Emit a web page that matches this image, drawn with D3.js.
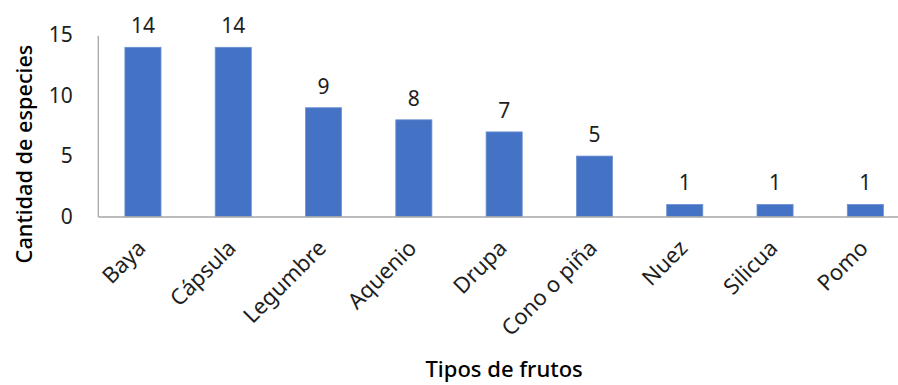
<!DOCTYPE html>
<html>
<head>
<meta charset="utf-8">
<script src="https://cdn.jsdelivr.net/npm/d3@7"></script>
<style>
  html, body { margin: 0; padding: 0; background: #fff; }
  svg { display: block; }
  text { font-family: "Noto Sans", "Open Sans", sans-serif; }
</style>
</head>
<body>
<svg id="chart" width="898" height="385"></svg>
<script>
// Fruit types and number of species for each
const categories = ["Baya", "Cápsula", "Legumbre", "Aquenio", "Drupa", "Cono o piña", "Nuez", "Silicua", "Pomo"];
const speciesCounts = [14, 14, 9, 8, 7, 5, 1, 1, 1];
const yTicks = [0, 5, 10, 15];
const xTitle = "Tipos de frutos";
const yTitle = "Cantidad de especies";

const W = 898, H = 385;
const plot = { left: 97.8, right: 910.5, top: 35.2, bottom: 216.5 };
const fontStack = "'Noto Sans', 'Open Sans', sans-serif";

const svg = d3.select("#chart");

const x = d3.scaleBand()
  .domain(categories)
  .range([plot.left, plot.right])
  .padding(0);

const y = d3.scaleLinear()
  .domain([0, 15])
  .range([plot.bottom, plot.top]);

const barW = x.bandwidth() * 0.4;
const barColor = "#4472C4";
const textColor = "#1e1e1e";
const axisColor = "#a6a6a6";

// Bars
svg.append("g")
  .selectAll("rect")
  .data(categories)
  .join("rect")
  .attr("x", (d) => x(d) + x.bandwidth() / 2 - barW / 2)
  .attr("width", barW)
  .attr("y", (d, i) => y(speciesCounts[i]))
  .attr("height", (d, i) => y(0) - y(speciesCounts[i]))
  .attr("fill", barColor)
  .attr("stroke", "#6f93d3")
  .attr("stroke-width", 0.8);

// Value labels above bars
svg.append("g")
  .selectAll("text")
  .data(categories)
  .join("text")
  .attr("x", (d) => x(d) + x.bandwidth() / 2)
  .attr("y", (d, i) => y(speciesCounts[i]) - 14)
  .attr("text-anchor", "middle")
  .attr("font-size", 21)
  .attr("fill", textColor)
  .text((d, i) => speciesCounts[i]);

// Y axis
const yAxis = svg.append("g")
  .attr("transform", `translate(${plot.left},0)`)
  .call(d3.axisLeft(y).tickValues(yTicks).tickSize(0).tickPadding(25));
yAxis.select(".domain").attr("stroke", axisColor).attr("stroke-width", 1.3);
yAxis.selectAll(".tick text")
  .attr("font-size", 21)
  .attr("fill", textColor)
  .attr("font-family", fontStack);

// X axis
const xAxis = svg.append("g")
  .attr("transform", `translate(0,${plot.bottom})`)
  .call(d3.axisBottom(x).tickSize(0).tickFormat(""));
xAxis.select(".domain").attr("stroke", axisColor).attr("stroke-width", 1.3);

// Rotated category labels
svg.append("g")
  .selectAll("text")
  .data(categories)
  .join("text")
  .attr("transform", (d) => `translate(${x(d) + x.bandwidth() / 2 + 4},${plot.bottom + 33}) rotate(-45)`)
  .attr("text-anchor", "end")
  .attr("font-size", 22)
  .attr("fill", textColor)
  .text((d) => d);

// Axis titles
svg.append("text")
  .attr("x", (plot.left + plot.right) / 2)
  .attr("y", 377)
  .attr("text-anchor", "middle")
  .attr("font-size", 22)
  .attr("font-weight", 500)
  .attr("fill", "#000")
  .text(xTitle);

svg.append("text")
  .attr("transform", "translate(32,154) rotate(-90)")
  .attr("text-anchor", "middle")
  .attr("font-size", 21.7)
  .attr("font-weight", 500)
  .attr("fill", "#000")
  .text(yTitle);
</script>
</body>
</html>
